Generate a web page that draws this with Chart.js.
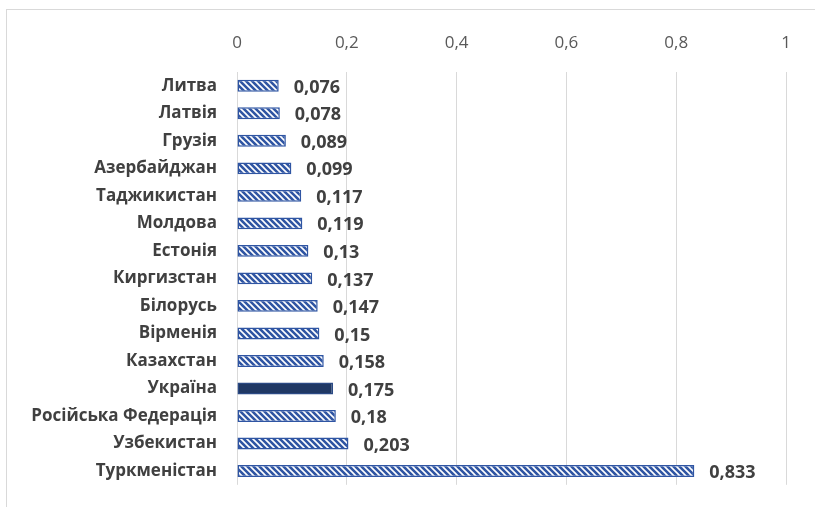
<!DOCTYPE html>
<html lang="uk">
  <head>
    <meta charset="UTF-8" />
    <title>Країни</title>
    <script src="https://cdn.jsdelivr.net/npm/chart.js"></script>
    <style>
      html, body { margin: 0; padding: 0; background: #fff; overflow: hidden; }
      #wrap { position: relative; width: 815px; height: 507px; }
      #frame {
        position: absolute; left: 6px; top: 9px; width: 900px; height: 600px;
        border: 1px solid #d9d9d9; box-sizing: border-box;
      }
      canvas { position: absolute; left: 0; top: 0; }
    </style>
  </head>
  <body>
    <div id="wrap">
      <div id="frame"></div>
      <canvas id="barChart" width="815" height="507"></canvas>
    </div>

    <script>
      // Дані
      const countries = [
        "Литва", "Латвія", "Грузія", "Азербайджан", "Таджикистан",
        "Молдова", "Естонія", "Киргизстан", "Білорусь", "Вірменія",
        "Казахстан", "Україна", "Російська Федерація", "Узбекистан", "Туркменістан",
      ];
      const values = [
        0.076, 0.078, 0.089, 0.099, 0.117, 0.119, 0.13, 0.137,
        0.147, 0.15, 0.158, 0.175, 0.18, 0.203, 0.833,
      ];
      const xTicks = [0, 0.2, 0.4, 0.6, 0.8, 1];
      const highlight = "Україна";

      const FONT = "'Open Sans', 'DejaVu Sans', sans-serif";
      const BLUE = "#2f55a3";
      const NAVY = "#1f3864";

      // штрихування
      function makePattern() {
        const c = document.createElement("canvas");
        c.width = 6; c.height = 6;
        const g = c.getContext("2d");
        g.fillStyle = BLUE;
        g.fillRect(0, 0, 6, 6);
        g.strokeStyle = "#ffffff";
        g.lineWidth = 1.6;
        g.beginPath();
        g.moveTo(-1, -1); g.lineTo(7, 7);
        g.moveTo(-4, 2); g.lineTo(4, 10);
        g.moveTo(2, -4); g.lineTo(10, 4);
        g.stroke();
        return g.createPattern(c, "repeat");
      }
      const hatch = makePattern();

      const fmt = (v) => String(v).replace(".", ",");

      // підписи значень
      const valueLabels = {
        id: "valueLabels",
        afterDatasetsDraw(chart) {
          const ctx = chart.ctx;
          const meta = chart.getDatasetMeta(0);
          ctx.save();
          ctx.font = "bold 18px " + FONT;
          ctx.fillStyle = "#404040";
          ctx.textAlign = "left";
          ctx.textBaseline = "middle";
          meta.data.forEach((bar, i) => {
            ctx.fillText(fmt(values[i]), bar.x + 15, bar.y + 2);
          });
          ctx.restore();
        },
      };

      new Chart(document.getElementById("barChart"), {
        type: "bar",
        data: {
          labels: countries,
          datasets: [
            {
              data: values,
              backgroundColor: countries.map((c) => (c === highlight ? NAVY : hatch)),
              borderColor: countries.map((c) => (c === highlight ? "#2b4a85" : BLUE)),
              borderWidth: 1.5,
              borderSkipped: false,
              categoryPercentage: 0.9,
              barPercentage: 0.48,
            },
          ],
        },
        options: {
          indexAxis: "y",
          responsive: false,
          animation: false,
          layout: { padding: { left: 0, top: 0, right: 29, bottom: 21 } },
          plugins: { legend: { display: false }, tooltip: { enabled: false } },
          scales: {
            x: {
              position: "top",
              min: 0,
              max: 1,
              afterBuildTicks: (s) => { s.ticks = xTicks.map((v) => ({ value: v })); },
              afterFit: (s) => { s.height = 72; },
              grid: { color: "#d9d9d9", drawTicks: false, lineWidth: 1 },
              border: { display: false },
              ticks: {
                padding: 19,
                color: "#595959",
                font: { family: FONT, size: 17 },
                callback: (v) => fmt(v),
              },
            },
            y: {
              afterFit: (s) => { s.width = 237; },
              grid: { display: false },
              border: { display: false },
              ticks: {
                padding: 12,
                color: "#404040",
                font: { family: FONT, size: 17, weight: "bold" },
              },
            },
          },
        },
        plugins: [valueLabels],
      });
    </script>
  </body>
</html>
